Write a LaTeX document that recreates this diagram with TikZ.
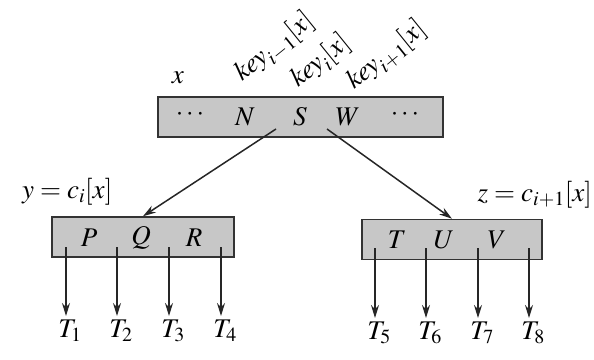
\documentclass[tikz,border=0pt]{standalone}
\usepackage{mathptmx}
\usetikzlibrary{arrows.meta}
\begin{document}
\begin{tikzpicture}[x=1pt,y=1pt,
  every node/.style={font=\fontsize{27}{30}\selectfont},
  keybox/.style={draw=black!80,fill=black!22,line width=1.5pt,minimum height=40pt,inner sep=0pt},
  ptr/.style={-{Stealth[length=13pt,width=8pt]},line width=1.5pt,black!85},
  lbl/.style={inner sep=0pt},
  keylbl/.style={inner sep=0pt,anchor=base west,rotate=39}]
\useasboundingbox (0,0) rectangle (594,-359);
% top node
\node[keybox,minimum width=285pt] (x) at (300.5,-117) {};
\node[lbl] (xd1) at (190,-115) {$\cdots$};
\node[lbl] (xN) at (245,-117) {$N$};
\node[lbl] (xS) at (300,-117) {$S$};
\node[lbl] (xW) at (348,-117) {$W$};
\node[lbl] (xd2) at (405,-115) {$\cdots$};
\node[lbl] (xname) at (178,-78) {$x$};
\node[keylbl] (k1) at (242,-82) {$\mathit{key}_{i-1}[x]$};
\node[keylbl] (k2) at (298,-88) {$\mathit{key}_{i}[x]$};
\node[keylbl] (k3) at (354,-90) {$\mathit{key}_{i+1}[x]$};
% left child
\node[keybox,minimum width=182pt] (y) at (143,-237) {};
\node[lbl] (yP) at (89,-238) {$P$};
\node[lbl] (yQ) at (141,-238) {$Q$};
\node[lbl] (yR) at (194,-238) {$R$};
\node[lbl,anchor=base west] (yname) at (22,-198) {$y = c_i[x]$};
% right child
\node[keybox,minimum width=180pt] (z) at (452,-239.5) {};
\node[lbl] (zT) at (397,-240) {$T$};
\node[lbl] (zU) at (444,-240) {$U$};
\node[lbl] (zV) at (497,-240) {$V$};
\node[lbl,anchor=base east] (zname) at (592,-201) {$z = c_{i+1}[x]$};
% pointers from root
\coordinate (p1) at (276,-129);
\coordinate (p2) at (327,-129);
\draw[ptr] (p1) -- (y.north);
\draw[ptr] (p2) -- (z.north);
% subtrees
\foreach \i/\xx in {1/66,2/117,3/169,4/221}{
  \node[lbl,anchor=base] (T\i) at (\xx+4,-337) {$T_{\i}$};
  \coordinate (s\i) at (\xx,-247);
  \coordinate (e\i) at (\xx,-316);
  \draw[ptr] (s\i) -- (e\i);
}
\foreach \i/\xx in {5/375,6/426,7/478,8/529}{
  \node[lbl,anchor=base] (T\i) at (\xx+4,-339) {$T_{\i}$};
  \coordinate (s\i) at (\xx,-248);
  \coordinate (e\i) at (\xx,-318);
  \draw[ptr] (s\i) -- (e\i);
}
\end{tikzpicture}
\end{document}
